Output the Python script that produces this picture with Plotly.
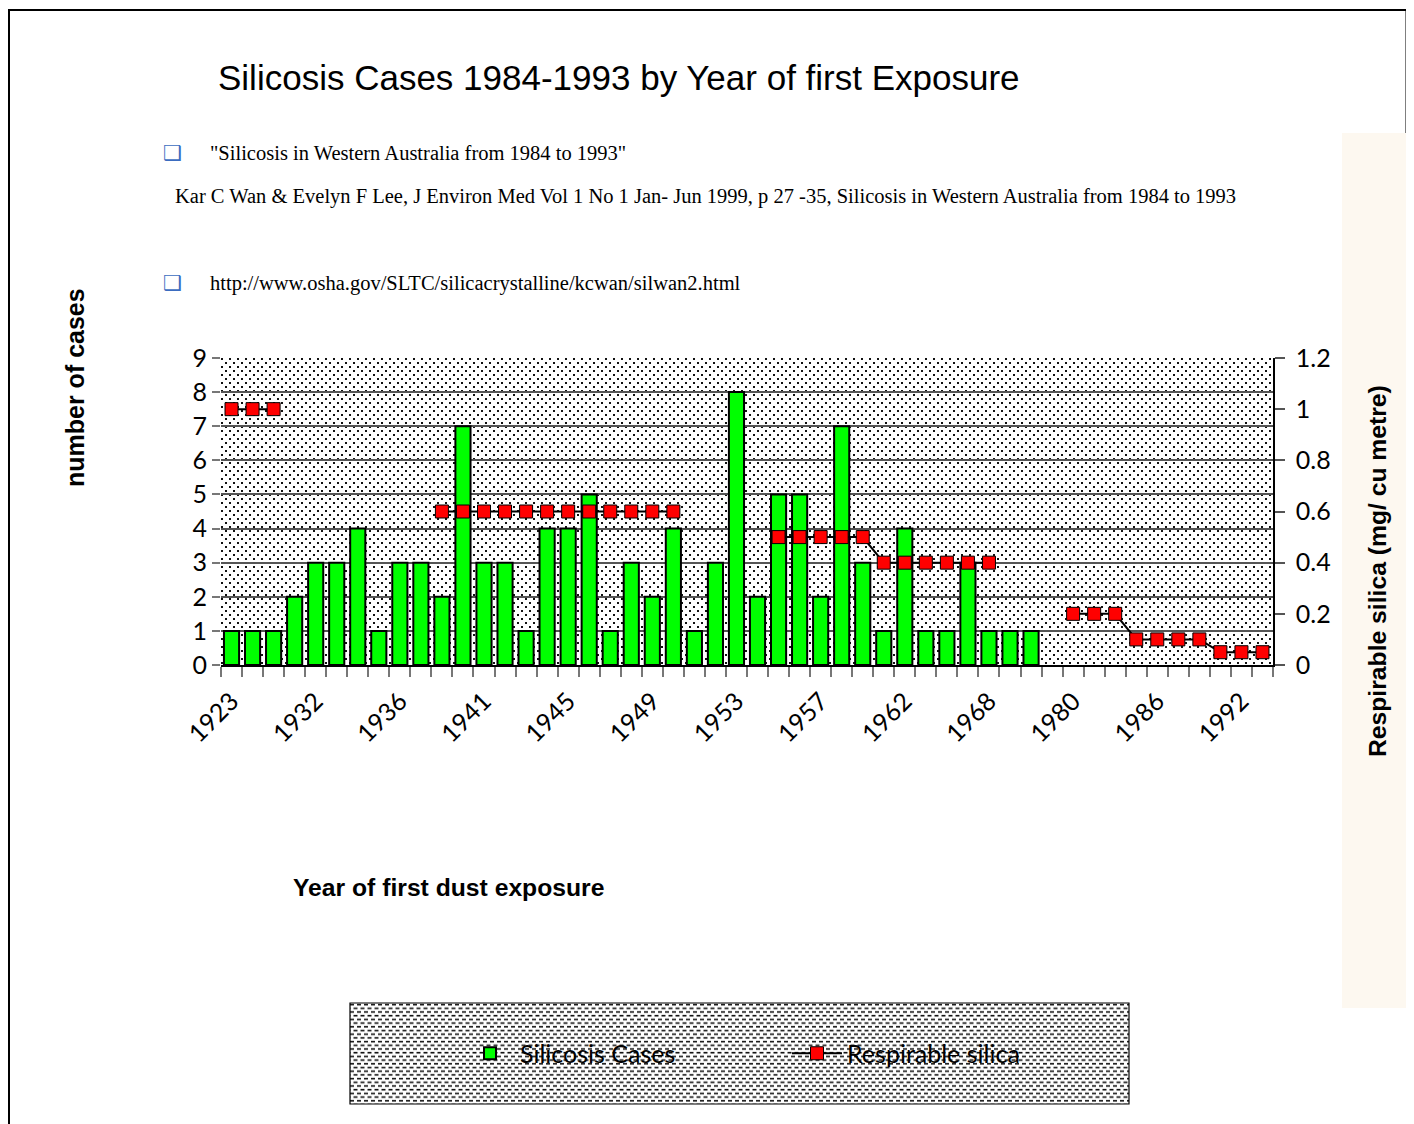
import base64
import plotly.graph_objects as go

# ---------------- data ----------------
years = [1923, 1926, 1928, 1930, 1932, 1933, 1934, 1935, 1936, 1937,
         1938, 1940, 1941, 1942, 1943, 1944, 1945, 1946, 1947, 1948,
         1949, 1950, 1951, 1952, 1953, 1954, 1955, 1956, 1957, 1958,
         1959, 1960, 1962, 1963, 1964, 1966, 1968, 1969, 1970, 1975,
         1980, 1982, 1983, 1984, 1986, 1987, 1988, 1990, 1992, 1993]

cases = [1, 1, 1, 2, 3, 3, 4, 1, 3, 3,
         2, 7, 3, 3, 1, 4, 4, 5, 1, 3,
         2, 4, 1, 3, 8, 2, 5, 5, 2, 7,
         3, 1, 4, 1, 1, 3, 1, 1, 1, None,
         None, None, None, None, None, None, None, None, None, None]

silica = [1.0, 1.0, 1.0, None, None, None, None, None, None, None,
          0.6, 0.6, 0.6, 0.6, 0.6, 0.6, 0.6, 0.6, 0.6, 0.6,
          0.6, 0.6, None, None, None, None, 0.5, 0.5, 0.5, 0.5,
          0.5, 0.4, 0.4, 0.4, 0.4, 0.4, 0.4, None, None, None,
          0.2, 0.2, 0.2, 0.1, 0.1, 0.1, 0.1, 0.05, 0.05, 0.05]

shown_every = 4
xi = list(range(len(years)))
tick_pos = xi[::shown_every]
tick_txt = [str(years[i]) for i in tick_pos]

# ---------------- geometry helpers (reference pixel coords) ----------------
OFF = 8                      # page body margin
W, H = 1414 - OFF, 1124 - OFF
L, R, T, B = 221, 1273, 358, 665
pw, ph = R - L, B - T


def px(x):
    return (x - L) / pw


def py(y):
    return (B - y) / ph


def svg_uri(svg):
    return "data:image/svg+xml;base64," + base64.b64encode(svg.encode()).decode()


dots_svg = (
    f'<svg xmlns="http://www.w3.org/2000/svg" width="{pw}" height="{ph}">'
    '<defs><pattern id="p" width="8" height="8" patternUnits="userSpaceOnUse">'
    '<rect x="0" y="0" width="2" height="2" fill="#111"/>'
    '<rect x="4" y="4" width="2" height="2" fill="#111"/>'
    '</pattern></defs>'
    f'<rect width="{pw}" height="{ph}" fill="#fff"/>'
    f'<rect width="{pw}" height="{ph}" fill="url(#p)"/></svg>'
)

lgx0, lgx1, lgy0, lgy1 = 350, 1129, 1003, 1104
lw, lh = lgx1 - lgx0, lgy1 - lgy0
dash_svg = (
    f'<svg xmlns="http://www.w3.org/2000/svg" width="{lw}" height="{lh}">'
    '<defs><pattern id="q" width="7" height="7.4" patternUnits="userSpaceOnUse">'
    '<rect x="0" y="0.8" width="4" height="1.6" fill="#111"/>'
    '<rect x="3.5" y="4.5" width="4" height="1.6" fill="#111"/>'
    '<rect x="-3.5" y="4.5" width="4" height="1.6" fill="#111"/>'
    '</pattern></defs>'
    f'<rect width="{lw}" height="{lh}" fill="#fff"/>'
    f'<rect width="{lw}" height="{lh}" fill="url(#q)"/></svg>'
)

fig = go.Figure()

fig.add_trace(go.Bar(
    x=xi, y=cases, name="Silicosis Cases", yaxis="y",
    width=0.72,
    marker=dict(color="#00ff00", line=dict(color="#000", width=2)),
))

fig.add_trace(go.Scatter(
    x=xi, y=silica, name="Respirable silica", yaxis="y2",
    mode="lines+markers", connectgaps=False,
    line=dict(color="#000", width=2),
    marker=dict(symbol="square", size=13, color="#ff0000",
                line=dict(color="#000", width=1)),
))

tickfont = dict(family="Lato, Open Sans, sans-serif", size=25, color="#000")

fig.update_layout(
    width=W, height=H, autosize=False,
    margin=dict(l=L - OFF, r=W - (R - OFF), t=T - OFF, b=H - (B - OFF), pad=0),
    paper_bgcolor="#fff",
    plot_bgcolor="rgba(0,0,0,0)",
    showlegend=True,
    xaxis=dict(
        range=[-0.5, len(years) - 0.5],
        tickmode="array", tickvals=tick_pos, ticktext=tick_txt,
        tickangle=-45, tickfont=tickfont, ticks="",
        ticklabelstandoff=10,
        showgrid=False, zeroline=False,
        showline=True, linecolor="#000", linewidth=1.5,
        minor=dict(tickmode="linear", tick0=-0.5, dtick=1,
                   ticks="outside", ticklen=10, tickcolor="#777",
                   tickwidth=1.5, showgrid=False),
    ),
    yaxis=dict(
        range=[0, 9], dtick=1, tickfont=tickfont,
        ticks="outside", ticklen=8, tickcolor="#777", tickwidth=1.5,
        showgrid=True, gridcolor="#555", gridwidth=1.5,
        zeroline=False, showline=False,
    ),
    yaxis2=dict(
        range=[0, 1.2], dtick=0.2, overlaying="y", side="right",
        tickfont=tickfont, ticks="outside", ticklen=10,
        tickcolor="#555", tickwidth=1.5, ticklabelstandoff=6,
        showgrid=False, zeroline=False,
        showline=True, linecolor="#000", linewidth=1.5,
    ),
    legend=dict(
        orientation="h", x=px(460), y=py((lgy0 + lgy1) / 2),
        xanchor="left", yanchor="middle",
        bgcolor="rgba(0,0,0,0)", borderwidth=0,
        font=dict(family="Lato, Open Sans, sans-serif", size=25, color="#000"),
        entrywidth=262, entrywidthmode="pixels",
        itemwidth=50,
    ),
    images=[
        dict(source=svg_uri(dots_svg), xref="paper", yref="paper",
             x=0, y=1, sizex=1, sizey=1, sizing="stretch",
             xanchor="left", yanchor="top", layer="below"),
        dict(source=svg_uri(dash_svg), xref="paper", yref="paper",
             x=px(lgx0), y=py(lgy0), sizex=lw / pw, sizey=lh / ph,
             sizing="stretch", xanchor="left", yanchor="top", layer="below"),
    ],
)

shapes = [
    # legend border
    dict(type="rect", xref="paper", yref="paper",
         x0=px(lgx0), x1=px(lgx1), y0=py(lgy0), y1=py(lgy1),
         line=dict(color="#000", width=1.2), fillcolor="rgba(0,0,0,0)", layer="above"),
    # beige side panel
    dict(type="rect", xref="paper", yref="paper",
         x0=px(1342), x1=px(1408), y0=py(133), y1=py(1008),
         line=dict(color="rgba(0,0,0,0)", width=0), fillcolor="#fdf8f0", layer="below"),
    dict(type="line", xref="paper", yref="paper",
         x0=px(1408), x1=px(1408), y0=py(133), y1=py(1008),
         line=dict(color="#777", width=1.2)),
    # outer frame
    dict(type="line", xref="paper", yref="paper",
         x0=px(8), x1=px(1408), y0=py(10), y1=py(10),
         line=dict(color="#000", width=2)),
    dict(type="line", xref="paper", yref="paper",
         x0=px(9), x1=px(9), y0=py(10), y1=py(1124),
         line=dict(color="#000", width=2)),
    dict(type="line", xref="paper", yref="paper",
         x0=px(1407), x1=px(1407), y0=py(9), y1=py(133),
         line=dict(color="#000", width=3)),
]
fig.update_layout(shapes=shapes)

serif = dict(family="Liberation Serif, Times New Roman, serif", size=20.5, color="#000")
bullet = dict(family="DejaVu Sans, sans-serif", size=21, color="#3b6cc0")
bold = "Liberation Sans, Arial, sans-serif"

annotations = [
    dict(text="Silicosis Cases 1984-1993 by Year of first Exposure",
         x=px(216), y=py(77), xanchor="left", yanchor="middle",
         font=dict(family="Liberation Sans, Arial, sans-serif", size=35, color="#000")),
    dict(text="❑", x=px(161), y=py(153), xanchor="left", yanchor="middle", font=bullet),
    dict(text="\"Silicosis in Western Australia from 1984 to 1993\"",
         x=px(208), y=py(153), xanchor="left", yanchor="middle", font=serif),
    dict(text="Kar C Wan &amp; Evelyn F Lee, J Environ Med Vol 1 No 1 Jan- Jun 1999, p 27 -35, "
              "Silicosis in Western Australia from 1984 to 1993",
         x=px(173), y=py(196), xanchor="left", yanchor="middle", font=serif),
    dict(text="❑", x=px(161), y=py(283), xanchor="left", yanchor="middle", font=bullet),
    dict(text="http://www.osha.gov/SLTC/silicacrystalline/kcwan/silwan2.html",
         x=px(208), y=py(283), xanchor="left", yanchor="middle", font=serif),
    dict(text="<b>number of cases</b>", textangle=-90,
         x=px(75), y=py(388), xanchor="center", yanchor="middle",
         font=dict(family=bold, size=25, color="#000")),
    dict(text="<b>Respirable silica (mg/ cu metre)</b>", textangle=-90,
         x=px(1377), y=py(571), xanchor="center", yanchor="middle",
         font=dict(family=bold, size=24.7, color="#000")),
    dict(text="<b>Year of first dust exposure</b>",
         x=px(291), y=py(887), xanchor="left", yanchor="middle",
         font=dict(family=bold, size=24.7, color="#000")),
]
for a in annotations:
    a.update(xref="paper", yref="paper", showarrow=False)
fig.update_layout(annotations=annotations)

fig.write_html("out.html")
